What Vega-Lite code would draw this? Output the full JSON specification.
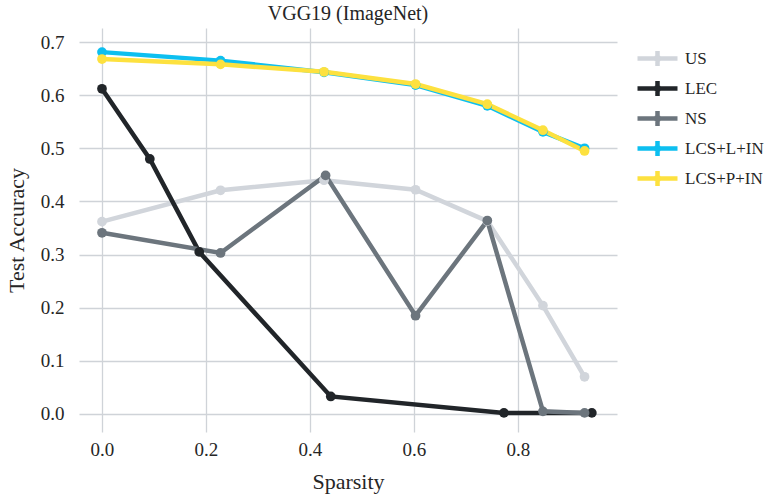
{
  "$schema": "https://vega.github.io/schema/vega-lite/v6.json",
  "autosize": {"type": "none"},
  "width": 538,
  "height": 404,
  "padding": {"left": 79, "top": 28, "right": 147, "bottom": 64},
  "background": "white",
  "title": {"text": "VGG19 (ImageNet)", "font": "Liberation Serif", "fontSize": 20, "fontWeight": "normal", "color": "#262626", "offset": 4, "anchor": "middle"},
  "config": {
    "view": {"stroke": null},
    "axis": {"labelFont": "Liberation Serif", "titleFont": "Liberation Serif", "labelColor": "#262626", "titleColor": "#262626", "titleFontWeight": "normal", "domain": false, "ticks": false, "tickSize": 0, "gridColor": "#cfd3d8", "gridWidth": 1.3, "gridOpacity": 1}
  },
  "data": {"values": [
    {"series": "US", "sparsity": 0.0, "acc": 0.362},
    {"series": "US", "sparsity": 0.228, "acc": 0.421},
    {"series": "US", "sparsity": 0.427, "acc": 0.440},
    {"series": "US", "sparsity": 0.603, "acc": 0.422},
    {"series": "US", "sparsity": 0.741, "acc": 0.363},
    {"series": "US", "sparsity": 0.848, "acc": 0.204},
    {"series": "US", "sparsity": 0.928, "acc": 0.070},
    {"series": "LEC", "sparsity": 0.0, "acc": 0.612},
    {"series": "LEC", "sparsity": 0.092, "acc": 0.480},
    {"series": "LEC", "sparsity": 0.187, "acc": 0.305},
    {"series": "LEC", "sparsity": 0.440, "acc": 0.033},
    {"series": "LEC", "sparsity": 0.773, "acc": 0.002},
    {"series": "LEC", "sparsity": 0.942, "acc": 0.002},
    {"series": "NS", "sparsity": 0.0, "acc": 0.341},
    {"series": "NS", "sparsity": 0.228, "acc": 0.303},
    {"series": "NS", "sparsity": 0.430, "acc": 0.449},
    {"series": "NS", "sparsity": 0.603, "acc": 0.185},
    {"series": "NS", "sparsity": 0.741, "acc": 0.364},
    {"series": "NS", "sparsity": 0.848, "acc": 0.005},
    {"series": "NS", "sparsity": 0.928, "acc": 0.002},
    {"series": "LCS+L+IN", "sparsity": 0.0, "acc": 0.681},
    {"series": "LCS+L+IN", "sparsity": 0.228, "acc": 0.665},
    {"series": "LCS+L+IN", "sparsity": 0.427, "acc": 0.643},
    {"series": "LCS+L+IN", "sparsity": 0.603, "acc": 0.619},
    {"series": "LCS+L+IN", "sparsity": 0.741, "acc": 0.580},
    {"series": "LCS+L+IN", "sparsity": 0.848, "acc": 0.531},
    {"series": "LCS+L+IN", "sparsity": 0.928, "acc": 0.500},
    {"series": "LCS+P+IN", "sparsity": 0.0, "acc": 0.668},
    {"series": "LCS+P+IN", "sparsity": 0.228, "acc": 0.658},
    {"series": "LCS+P+IN", "sparsity": 0.427, "acc": 0.644},
    {"series": "LCS+P+IN", "sparsity": 0.603, "acc": 0.621},
    {"series": "LCS+P+IN", "sparsity": 0.741, "acc": 0.583},
    {"series": "LCS+P+IN", "sparsity": 0.848, "acc": 0.534},
    {"series": "LCS+P+IN", "sparsity": 0.928, "acc": 0.495}
  ]},
  "mark": {"type": "line", "strokeWidth": 4.5, "point": {"filled": true, "size": 95}},
  "encoding": {
    "x": {"field": "sparsity", "type": "quantitative", "title": "Sparsity",
      "scale": {"domain": [-0.0442, 0.9904], "nice": false, "zero": false},
      "axis": {"values": [0, 0.2, 0.4, 0.6, 0.8], "format": ".1f", "labelFontSize": 19, "titleFontSize": 22, "labelPadding": 8, "titlePadding": 12}},
    "y": {"field": "acc", "type": "quantitative", "title": "Test Accuracy",
      "scale": {"domain": [-0.0339, 0.7264], "nice": false, "zero": false},
      "axis": {"values": [0, 0.1, 0.2, 0.3, 0.4, 0.5, 0.6, 0.7], "format": ".1f", "labelFontSize": 19, "titleFontSize": 22, "labelPadding": 15, "titlePadding": 12}},
    "color": {"field": "series", "type": "nominal",
      "scale": {"domain": ["US", "LEC", "NS", "LCS+L+IN", "LCS+P+IN"], "range": ["#d1d5db", "#212529", "#6c757d", "#0dbff0", "#fde13f"]},
      "legend": {"title": null, "orient": "none", "legendX": 566, "legendY": 18, "padding": 0,
        "symbolType": "M-2,0H2M0,-0.75V0.75M0.15,0A0.15,0.15 0 1,1 -0.15,0A0.15,0.15 0 1,1 0.15,0",
        "symbolSize": 400, "symbolStrokeWidth": 4.5, "symbolFillColor": "transparent",
        "rowPadding": -3, "labelOffset": 15, "labelFont": "Liberation Serif", "labelFontSize": 17, "labelColor": "#262626"}}
  }
}
